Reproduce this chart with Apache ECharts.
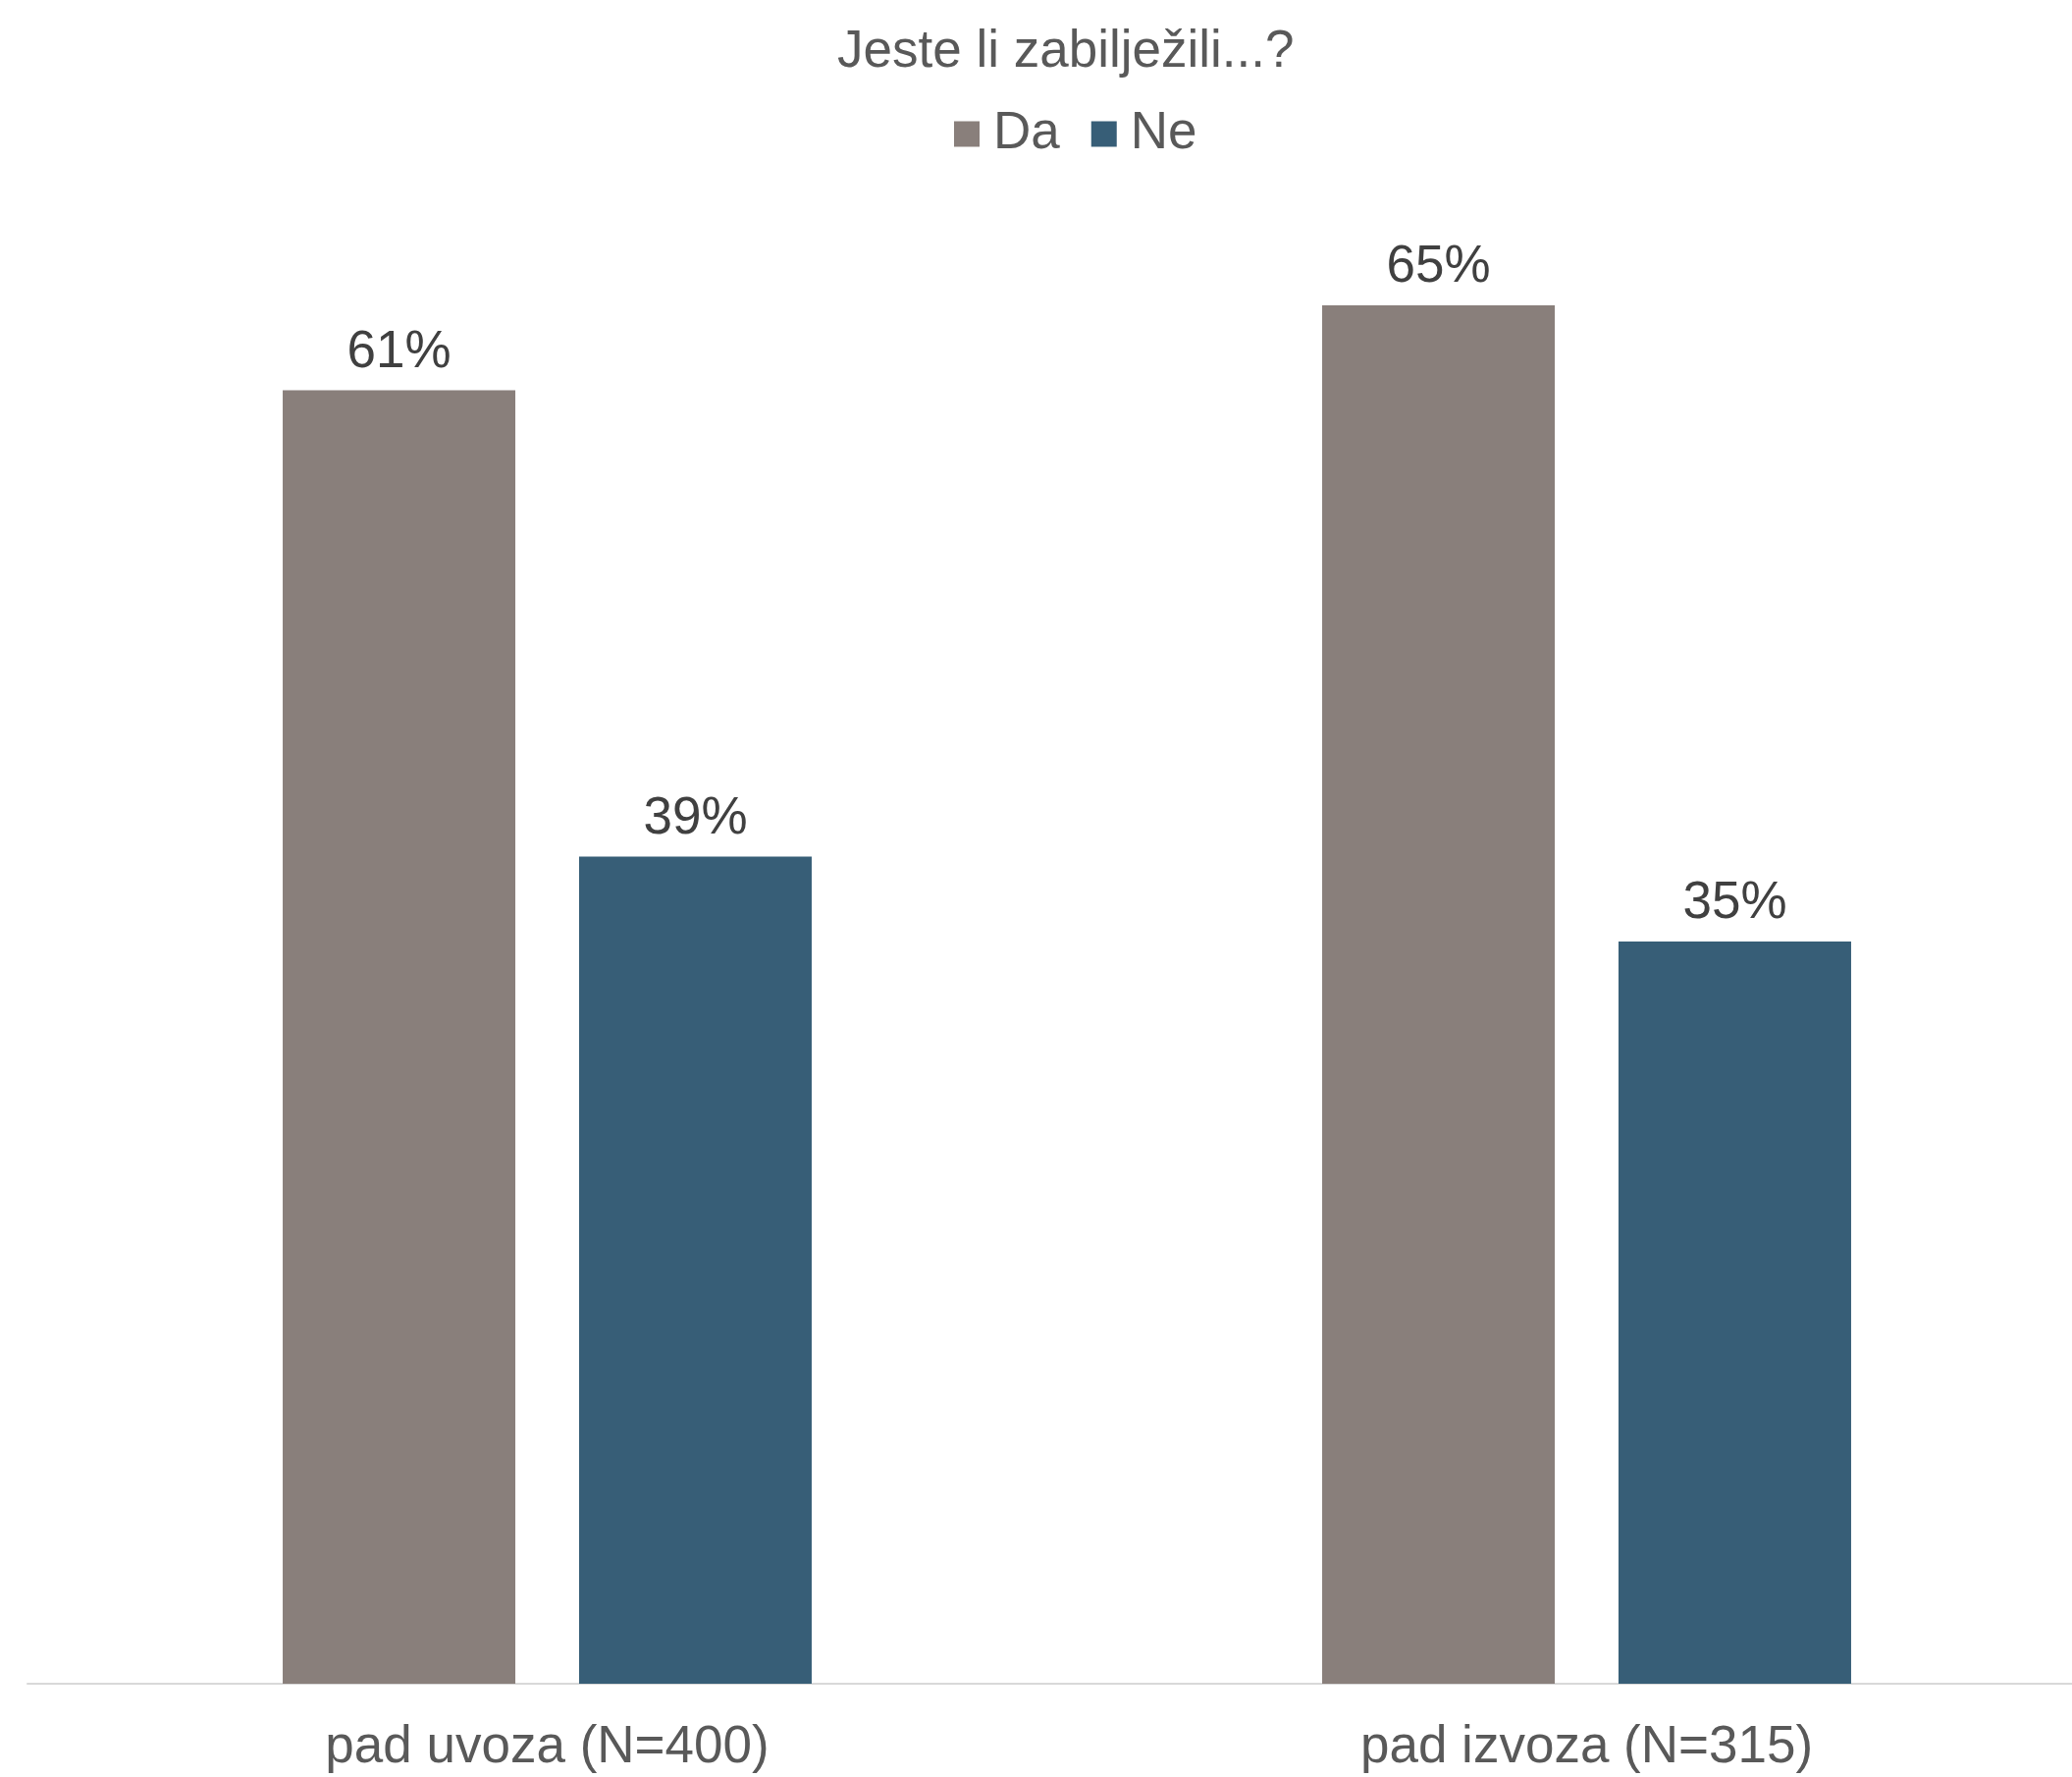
<!DOCTYPE html>
<html>
<head>
<meta charset="utf-8">
<script src="https://cdn.jsdelivr.net/npm/echarts@6/dist/echarts.min.js"></script>
<style>
html,body{margin:0;padding:0;background:#fff;}
#chart{width:2111px;height:1810px;}
</style>
</head>
<body>
<div id="chart"></div>
<script>
const titleText = 'Jeste li zabilježili...?';
const categories = ['pad uvoza (N=400)', 'pad izvoza (N=315)'];
const seriesNames = ['Da', 'Ne'];
const daValues = [61, 65];
const neValues = [39, 35];

const FONT = '"Liberation Sans", Arial, sans-serif';
const chart = echarts.init(document.getElementById('chart'), null, {renderer: 'canvas'});

const labelCfg = {
  show: true,
  position: 'top',
  distance: 12,
  formatter: p => p.value + '%',
  color: '#404040',
  fontSize: 53,
  fontFamily: FONT
};

chart.setOption({
  animation: false,
  backgroundColor: '#ffffff',
  title: {
    text: titleText,
    left: 853,
    top: 27,
    padding: 0,
    textStyle: {color: '#595959', fontSize: 53, fontWeight: 'normal', fontFamily: FONT}
  },
  legend: {
    data: seriesNames,
    left: 972,
    top: 110,
    padding: 0,
    itemWidth: 26,
    itemHeight: 26,
    itemGap: 32,
    icon: 'rect',
    textStyle: {color: '#595959', fontSize: 53, fontFamily: FONT, padding: [0, 0, 0, 9]}
  },
  grid: {left: 28, right: -35, top: 203, bottom: 95, containLabel: false, outerBoundsMode: 'none'},
  xAxis: {
    type: 'category',
    data: categories,
    axisLine: {show: true, lineStyle: {color: '#d9d9d9', width: 2}},
    axisTick: {show: false},
    axisLabel: {margin: 39, color: '#595959', fontSize: 53, fontFamily: FONT}
  },
  yAxis: {
    type: 'value',
    min: 0,
    max: 70,
    show: false,
    splitLine: {show: false}
  },
  series: [
    {
      name: seriesNames[0],
      type: 'bar',
      data: daValues,
      barWidth: 237,
      barGap: '27.4%',
      itemStyle: {color: '#897f7b'},
      label: labelCfg
    },
    {
      name: seriesNames[1],
      type: 'bar',
      data: neValues,
      barWidth: 237,
      barGap: '27.4%',
      itemStyle: {color: '#375e77'},
      label: labelCfg
    }
  ]
});
</script>
</body>
</html>
